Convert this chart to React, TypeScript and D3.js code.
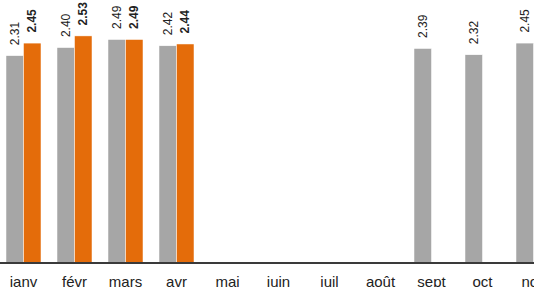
import { useEffect, useRef } from 'react';
import * as d3 from 'd3';

const months = ['janv', 'févr', 'mars', 'avr', 'mai', 'juin', 'juil', 'août', 'sept', 'oct', 'nov', 'déc'];
const previousYear = [2.31, 2.4, 2.49, 2.42, null, null, null, null, 2.39, 2.32, 2.45, null];
const currentYear = [2.45, 2.53, 2.49, 2.44, null, null, null, null, null, null, null, null];

const WIDTH = 534;
const HEIGHT = 287;
const BASE_Y = 263;

const App = () => {
  const svgRef = useRef<SVGSVGElement>(null);

  useEffect(() => {
    const svg = d3.select(svgRef.current);
    svg.selectAll('*').remove();

    const xScale = d3
      .scaleBand()
      .domain(months)
      .range([-2, 610])
      .paddingInner(0.314)
      .paddingOuter(0.157);

    const subScale = d3
      .scaleBand()
      .domain(['prev', 'cur'])
      .range([0, xScale.bandwidth()]);

    const yScale = d3.scaleLinear().domain([0, 2.93]).range([BASE_Y, 0]);

    const rows = months.flatMap((m, i) => [
      { month: m, key: 'prev', value: previousYear[i] },
      { month: m, key: 'cur', value: currentYear[i] },
    ]).filter((d) => d.value != null);

    const g = svg.append('g');

    g.selectAll('rect')
      .data(rows)
      .enter()
      .append('rect')
      .attr('x', (d) => xScale(d.month) + subScale(d.key))
      .attr('y', (d) => yScale(d.value))
      .attr('width', subScale.bandwidth())
      .attr('height', (d) => BASE_Y - yScale(d.value))
      .attr('fill', (d) => (d.key === 'prev' ? '#a6a6a6' : '#e46c0a'))
      .attr('stroke', '#fff')
      .attr('stroke-width', 0.5);

    // value labels, rotated, sitting just above each bar
    g.selectAll('text.value')
      .data(rows)
      .enter()
      .append('text')
      .attr('class', 'value')
      .attr(
        'transform',
        (d) =>
          `translate(${xScale(d.month) + subScale(d.key) + subScale.bandwidth() / 2},${yScale(d.value) - 10.5}) rotate(-90)`
      )
      .attr('dy', '0.35em')
      .attr('text-anchor', 'start')
      .attr('font-family', 'Liberation Sans, Arial, sans-serif')
      .attr('font-size', 12)
      .attr('font-weight', (d) => (d.key === 'cur' ? 'bold' : 'normal'))
      .attr('fill', '#222')
      .text((d) => d.value.toFixed(2));

    g.append('line')
      .attr('x1', 0)
      .attr('x2', WIDTH)
      .attr('y1', BASE_Y)
      .attr('y2', BASE_Y)
      .attr('stroke', '#3a3a3a')
      .attr('stroke-width', 2);

    g.selectAll('text.month')
      .data(months)
      .enter()
      .append('text')
      .attr('class', 'month')
      .attr('x', (d) => xScale(d) + xScale.bandwidth() / 2)
      .attr('y', 286.5)
      .attr('text-anchor', 'middle')
      .attr('font-family', 'Liberation Sans, Arial, sans-serif')
      .attr('font-size', 15)
      .attr('fill', '#222')
      .text((d) => d);
  }, []);

  return (
    <svg
      ref={svgRef}
      width={WIDTH}
      height={HEIGHT}
      style={{ position: 'absolute', left: 0, top: 0, background: '#fff' }}
    />
  );
};

export default App;
